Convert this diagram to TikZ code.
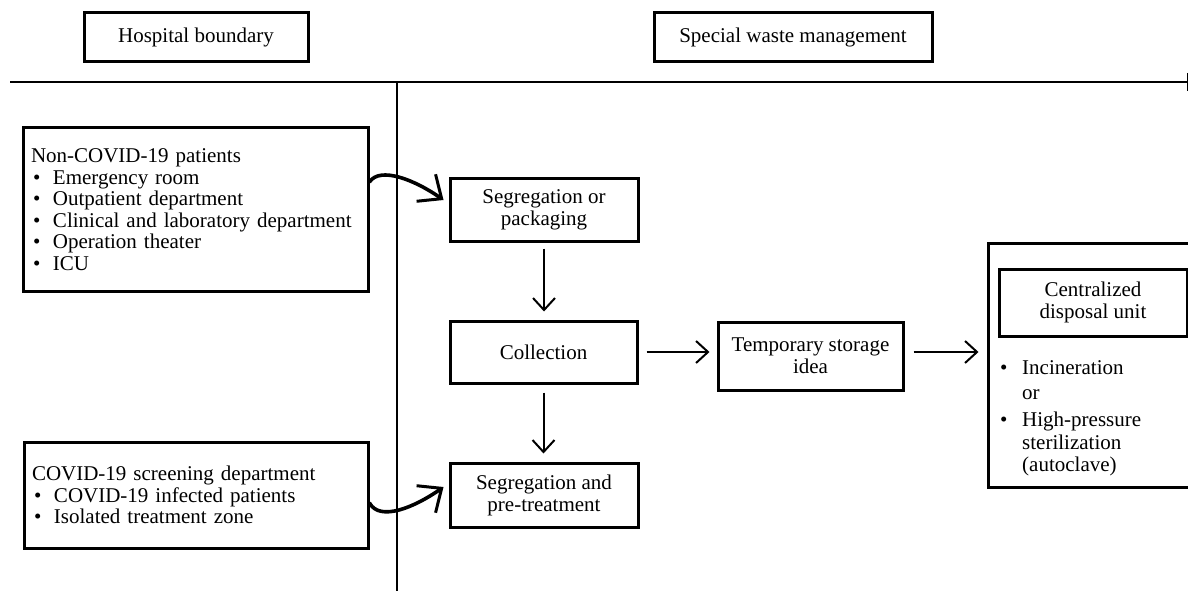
\documentclass[tikz,border=0pt]{standalone}
\usepackage{fontspec}
\setmainfont{Liberation Serif}
\usetikzlibrary{arrows.meta,calc}
\newcommand{\diagfont}{\fontsize{21}{22}\selectfont}
\newcommand{\listfont}{\fontsize{21}{21.5}\selectfont}
\newcommand{\bul}{\makebox[22pt][l]{\hspace{2pt}\textbullet}}
\newcommand{\dbul}{\makebox[25pt][l]{\hspace{3pt}\textbullet}}
\begin{document}
\begin{tikzpicture}[x=1pt,y=-1pt,
  box/.style={draw,line width=3pt,inner sep=0pt,align=center,font=\diagfont},
  listbox/.style={draw,line width=3pt,inner xsep=8pt,inner ysep=0pt,align=left,font=\listfont},
  thickarrow/.style={line width=3.6pt,line cap=round,-{Straight Barb[length=19pt,width=33pt,line width=3pt]}},
  thinarrow/.style={line width=2pt,-{Straight Barb[length=12pt,width=22pt,line width=2pt]}},
  divider/.style={line width=2.6pt}]
\useasboundingbox (0,0) rectangle (1188,591);

% header boxes
\node[box,minimum width=224pt,minimum height=49pt] (hosp) at (196,37.5) {Hospital boundary};
\node[box,minimum width=278pt,minimum height=49pt] (swm) at (793,37.5) {Special waste management};

% dividing lines
\draw[divider] (10,82) -- (1187,82);
\draw[line width=1pt] (1187,73) -- (1187,91);
\draw[line width=2.4pt] (397,82) -- (397,591);

% left boxes
\node[listbox,text width=329pt,minimum height=163pt] (noncovid) at (195.5,209.5)
  {Non-COVID-19 patients\\
   \bul Emergency room\\
   \bul Outpatient department\\
   \bul Clinical and laboratory department\\
   \bul Operation theater\\
   \bul ICU};
\node[listbox,text width=328pt,minimum height=106pt] (covid) at (196,495)
  {COVID-19 screening department\\
   \bul COVID-19 infected patients\\
   \bul Isolated treatment zone};

% process boxes
\node[box,minimum width=188pt,minimum height=63pt] (segpack) at (544,209.5) {Segregation or\\packaging};
\node[box,minimum width=187pt,minimum height=62pt] (collect) at (543.5,352) {Collection};
\node[box,minimum width=185pt,minimum height=68pt] (temp) at (810.5,356) {Temporary storage\\idea};
\node[box,minimum width=188pt,minimum height=64pt] (segpre) at (544,495) {Segregation and\\pre-treatment};

% disposal
\node[draw,line width=3pt,minimum width=204pt,minimum height=244pt,inner sep=0pt] (disposal) at (1090,365) {};
\node[box,minimum width=188pt,minimum height=67pt] (central) at (1093,302.5) {Centralized\\disposal unit};
\node[anchor=north west,inner sep=0pt,align=left,font=\diagfont] (displist) at (997,360)
  {\dbul Incineration\\[3pt]
   \makebox[25pt][l]{}or\\[5pt]
   \dbul High-pressure\\[1pt]
   \makebox[25pt][l]{}sterilization\\
   \makebox[25pt][l]{}(autoclave)};

% connectors
\draw[thickarrow] ([yshift=27.5pt]noncovid.east) .. controls (380,166) and (415,180) .. ([xshift=-5pt,yshift=9.5pt]segpack.west);
\draw[thickarrow] ([yshift=-8pt]covid.east) .. controls (380,522) and (415,507) .. ([xshift=-5pt,yshift=8pt]segpre.west);
\draw[thinarrow,shorten <=6pt,shorten >=8pt] (segpack.south) -- (segpack.south |- collect.north);
\draw[thinarrow,shorten <=8pt,shorten >=8pt] (collect.south) -- (collect.south |- segpre.north);
\draw[thinarrow,shorten <=8pt,shorten >=7pt] (collect.east) -- (collect.east -| temp.west);
\coordinate (tempout) at ([yshift=4pt]temp.east);
\draw[thinarrow,shorten <=9pt,shorten >=8pt] (tempout) -- (tempout -| disposal.west);
\end{tikzpicture}
\end{document}
